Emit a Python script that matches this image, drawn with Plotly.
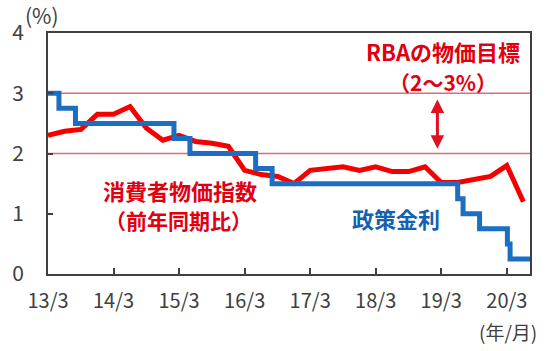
import plotly.graph_objects as go

# Consumer price index (YoY, quarterly)
cpi_dates = ["2013-03-01", "2013-06-01", "2013-09-01", "2013-12-01",
             "2014-03-01", "2014-06-01", "2014-09-01", "2014-12-01",
             "2015-03-01", "2015-06-01", "2015-09-01", "2015-12-01",
             "2016-03-01", "2016-06-01", "2016-09-01", "2016-12-01",
             "2017-03-01", "2017-06-01", "2017-09-01", "2017-12-01",
             "2018-03-01", "2018-06-01", "2018-09-01", "2018-12-01",
             "2019-03-01", "2019-06-01", "2019-09-01", "2019-12-01",
             "2020-03-01", "2020-06-01"]
cpi_values = [2.30, 2.37, 2.40, 2.65,
              2.65, 2.78, 2.42, 2.22,
              2.30, 2.20, 2.17, 2.12,
              1.72, 1.65, 1.62, 1.50,
              1.72, 1.75, 1.78, 1.72,
              1.78, 1.70, 1.70, 1.78,
              1.52, 1.52, 1.58, 1.62,
              1.80, 1.20]

# Policy rate (step changes)
rate_dates = ["2013-03-01", "2013-05-01", "2013-08-01", "2015-02-01", "2015-05-01",
              "2016-05-01", "2016-08-01", "2019-06-01", "2019-07-01", "2019-10-01",
              "2020-03-04", "2020-03-19", "2020-07-15"]
rate_values = [3.00, 2.75, 2.50, 2.25, 2.00,
               1.75, 1.50, 1.25, 1.00, 0.75,
               0.50, 0.25, 0.25]

tick_dates = ["2013-03-01", "2014-03-01", "2015-03-01", "2016-03-01",
              "2017-03-01", "2018-03-01", "2019-03-01", "2020-03-01"]
tick_labels = ["13/3", "14/3", "15/3", "16/3", "17/3", "18/3", "19/3", "20/3"]
y_ticks = [0, 1, 2, 3, 4]
target_band = [2, 3]

FONT = "Noto Sans CJK JP"
RED = "#f50000"
BLUE = "#1b6ec2"
GRAY = "#404040"

fig = go.Figure()
fig.add_trace(go.Scatter(x=cpi_dates, y=cpi_values, mode="lines",
                         line=dict(color=RED, width=5), showlegend=False))
fig.add_trace(go.Scatter(x=rate_dates, y=rate_values, mode="lines",
                         line=dict(color=BLUE, width=5, shape="hv"), showlegend=False))

for yv in target_band:
    fig.add_shape(type="line", xref="paper", yref="y", x0=0, x1=1, y0=yv, y1=yv,
                  line=dict(color="#e06a78", width=1.5), layer="below")

fig.add_annotation(x="2019-02-08", y=2.08, ax="2019-02-08", ay=2.92,
                   xref="x", yref="y", axref="x", ayref="y",
                   showarrow=True, arrowside="end+start", arrowhead=2,
                   arrowsize=0.9, arrowwidth=3, arrowcolor="#e01020", text="")

def txt(s, x, y, color, size=20):
    fig.add_annotation(text=s, x=x, y=y, xref="paper", yref="paper",
                       showarrow=False, xanchor="center", yanchor="middle",
                       font=dict(family=FONT, size=size, color=color))

txt("<b>RBAの物価目標</b>", 0.819, 0.925, "#e00010", 22)
txt("<b>（2〜3%）</b>", 0.819, 0.798, "#e00010", 21)
txt("<b>消費者物価指数</b>", 0.274, 0.350, "#e00010", 22)
txt("<b>（前年同期比）</b>", 0.270, 0.222, "#e00010", 21)
txt("<b>政策金利</b>", 0.722, 0.233, "#1560b0", 22)
txt("(%)", -0.012, 1.075, GRAY, 21)
txt("(年/月)", 0.955, -0.24, GRAY, 19)

fig.update_layout(
    width=550, height=351,
    margin=dict(l=45, r=20, t=33, b=77),
    paper_bgcolor="white", plot_bgcolor="white",
    font=dict(family=FONT, color=GRAY),
)
fig.update_xaxes(
    type="date", range=["2013-03-01", "2020-07-08"],
    tickvals=tick_dates, ticktext=tick_labels,
    showgrid=False, zeroline=False,
    showline=True, linecolor=GRAY, linewidth=2, mirror=True,
    ticks="inside", ticklen=6, tickwidth=2, tickcolor=GRAY,
    ticklabelstandoff=8,
    tickfont=dict(family=FONT, size=20, color=GRAY),
)
fig.update_yaxes(
    range=[0, 4], tickvals=y_ticks,
    showgrid=False, zeroline=False,
    showline=True, linecolor=GRAY, linewidth=2, mirror=True,
    ticks="inside", ticklen=5, tickwidth=2, tickcolor=GRAY,
    ticklabelstandoff=18,
    tickfont=dict(family=FONT, size=21, color=GRAY),
)

fig.write_html("out.html")
